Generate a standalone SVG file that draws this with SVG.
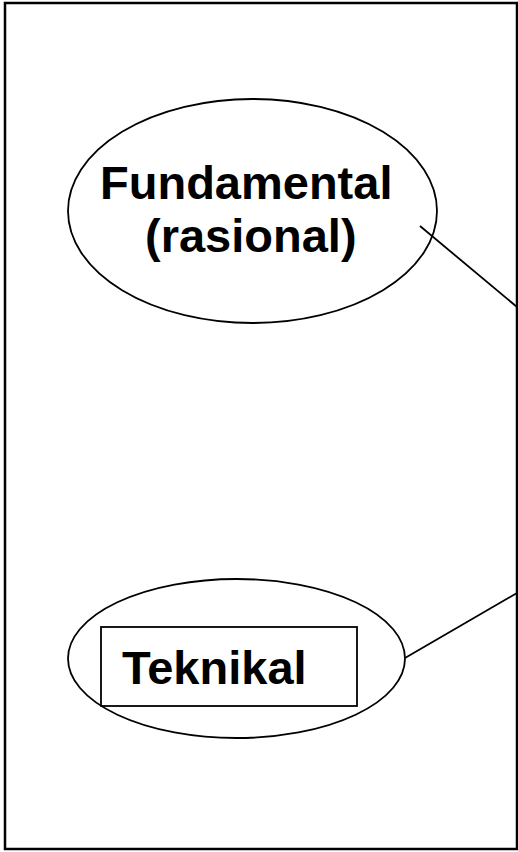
<svg xmlns="http://www.w3.org/2000/svg" width="518" height="852" viewBox="0 0 518 852">
<style>
.s{fill:none;stroke:#000;stroke-width:1.8}
.t{font-family:"Liberation Sans",Arial,sans-serif;font-weight:bold;font-size:47px;fill:#000}
</style>
<rect x="0" y="0" width="518" height="852" fill="#fff"/>
<rect id="frame" x="5" y="3" width="512" height="846" fill="none" stroke="#000" stroke-width="2.5"/>
<g id="connectors">
<line class="s" x1="420" y1="226" x2="517" y2="307"/>
<line class="s" x1="405" y1="658" x2="517" y2="593"/>
</g>
<g id="fundamental">
<ellipse class="s" cx="252.5" cy="211" rx="184.5" ry="112"/>
<text class="t" x="100" y="199">Fundamental</text>
<text class="t" x="145" y="252">(rasional)</text>
</g>
<g id="teknikal">
<ellipse class="s" cx="236.5" cy="658.5" rx="168.5" ry="79.5"/>
<rect class="s" x="101" y="627" width="256" height="79"/>
<text class="t" x="122" y="684">Teknikal</text>
</g>
</svg>
